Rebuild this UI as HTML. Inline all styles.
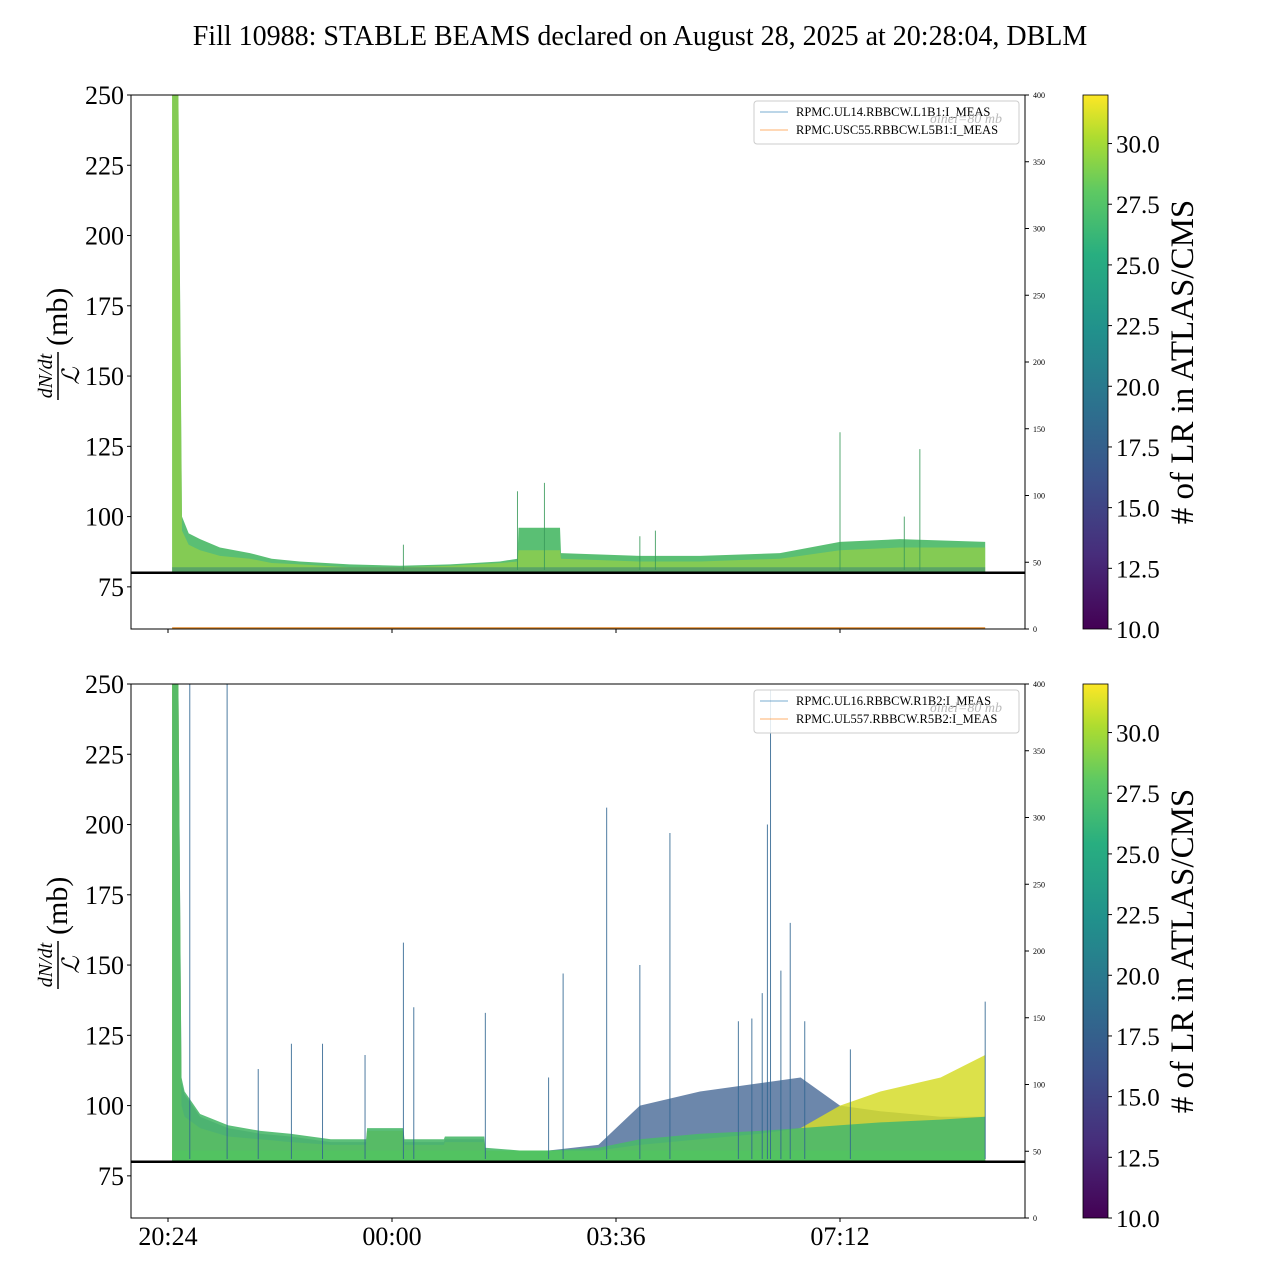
<!DOCTYPE html>
<html><head><meta charset="utf-8">
<style>
html,body{margin:0;padding:0;background:#fff;}
svg{display:block;font-family:"Liberation Serif",serif;}
</style></head>
<body>
<svg id="chart" width="1280" height="1280" viewBox="0 0 1280 1280" xmlns="http://www.w3.org/2000/svg">
<defs>
<linearGradient id="viridis" x1="0" y1="1" x2="0" y2="0">
<stop offset="0" stop-color="#440154"/><stop offset="0.14" stop-color="#472d7b"/>
<stop offset="0.28" stop-color="#3b528b"/><stop offset="0.42" stop-color="#2c728e"/>
<stop offset="0.56" stop-color="#21918c"/><stop offset="0.7" stop-color="#28ae80"/>
<stop offset="0.82" stop-color="#5ec962"/><stop offset="0.92" stop-color="#addc30"/>
<stop offset="1" stop-color="#fde725"/>
</linearGradient>
</defs>
<text x="640" y="45" text-anchor="middle" font-size="28">Fill 10988: STABLE BEAMS declared on August 28, 2025 at 20:28:04, DBLM</text>
<g id="panels"></g>
</svg>
<script>
// x axis: minutes since 20:24
const xTickLabels = ["20:24","00:00","03:36","07:12"];
const xTickMinutes = [0,216,432,648];
const yTicks = [75,100,125,150,175,200,225,250];
const rightTicks = [0,50,100,150,200,250,300,350,400];
const cbTicks = [10,12.5,15,17.5,20,22.5,25,27.5,30];

// Panel 1 envelope (minutes, value)
const p1Times = [4,10,13.5,20,31,50,79,100,127,175,224,272,320,337,338,378,379,455,513,590,648,706,788];
const p1Top   = [250,250,100,94,92,89,87,85,84,83,82.5,83,84,85,96,96,87,86,86,87,91,92,91];
const p1Yellow= [250,250,95,90,88,86,85,83.5,83,82,82,82.5,83.5,84,88,88,85,84,84,85,88,89,89];
const p1SpikeT = [227,337,363,455,470,648,725,710];
const p1SpikeV = [90,109,112,93,95,130,124,100];

// Panel 2 envelopes
const p2Times = [4,10,13,16,31,58,89,118,157,191,192,227,228,266,267,305,306,339,367,415,455,513,571,610,648,687,745,788];
const p2Green = [250,250,110,105,97,93,91,90,88,88,92,92,88,88,89,89,85,84,84,85,88,90,91,92,93,94,95,96];
const p2Blue  = [250,250,108,104,96,92,90,89,87,87,91,91,87,87,88,88,84,84,84,86,100,105,108,110,100,98,96,96];
const p2Yellow= [250,250,100,96,92,89,88,87,86,86,91,91,86,86,87,87,84,83,83,84,86,88,90,92,100,105,110,118];
const p2SpikeT = [21,57,87,119,149,190,227,237,306,367,381,423,455,484,550,563,573,578,581,591,600,614,658,788];
const p2SpikeV = [250,250,113,122,122,118,158,135,133,110,147,206,150,197,130,131,140,200,248,148,165,130,120,137];

const NS = "http://www.w3.org/2000/svg";
const root = document.getElementById('panels');
function mk(tag, attrs, parent){const e=document.createElementNS(NS,tag);for(const k in attrs)e.setAttribute(k,attrs[k]);(parent||root).appendChild(e);return e;}

const X0=131,X1=1025;
function xs(m){return 168 + m*224/216;}

function drawPanel(top, idx){
  const bot = top+534;
  const ys = v => bot - (Math.max(60,Math.min(250,v))-60)*(534/190);
  const g = mk('g',{});
  
  
  const clipId='clip'+idx;
  const cp=mk('clipPath',{id:clipId},g);mk('rect',{x:X0,y:top,width:X1-X0,height:534},cp);
  const data = mk('g',{'clip-path':'url(#'+clipId+')'},g);
  
  
  function band(times, vals, base, fill, op){
    let d='M'+xs(times[0])+','+ys(base);
    for(let i=0;i<times.length;i++) d+=' L'+xs(times[i]).toFixed(1)+','+ys(vals[i]).toFixed(1);
    d+=' L'+xs(times[times.length-1])+','+ys(base)+' Z';
    const p=mk('path',{d:d,fill:fill,'fill-opacity':op},data);
    
    
  }
  function spikes(T,V,col){
    for(let i=0;i<T.length;i++){
      const l=mk('line',{x1:xs(T[i]),x2:xs(T[i]),y1:ys(81),y2:ys(V[i]),stroke:col,'stroke-width':1,'stroke-opacity':0.85},data);
      
      
    }
  }
  if(idx===1){
    band(p1Times,p1Top,80.3,'#48b865',0.9);
    band(p1Times,p1Yellow,80.3,'#a8d53a',0.55);
    band(p1Times,p1Yellow.map(v=>Math.min(v,82)),80.3,'#2f7f78',0.5);
    spikes(p1SpikeT,p1SpikeV,'#3a9a5a');
    const o=mk('line',{x1:xs(4),x2:xs(788),y1:bot-1,y2:bot-1,stroke:'#e08a2c','stroke-width':1.5},g);
    
    
  } else {
    band(p2Times,p2Blue,80.3,'#3b5f8f',0.75);
    band(p2Times,p2Yellow,80.3,'#d6dc2a',0.85);
    band(p2Times,p2Green,80.3,'#4ab86a',0.9);
    band(p2Times,p2Green.map(v=>Math.min(v,84)),80.3,'#52c460',0.9);
    spikes(p2SpikeT,p2SpikeV,'#2f6590');
  }
  const s=mk('line',{x1:X0,x2:X1,y1:ys(80),y2:ys(80),stroke:'#000','stroke-width':2.5},g);
  
  
  mk('rect',{x:X0,y:top,width:X1-X0,height:534,fill:'none',stroke:'#000','stroke-width':1},g);
  yTicks.forEach(v=>{
    mk('line',{x1:X0-4,x2:X0,y1:ys(v),y2:ys(v),stroke:'#000'},g);
    const t=mk('text',{x:X0-7,y:ys(v)+9,'text-anchor':'end','font-size':26},g);t.textContent=v;
    
    
  });
  rightTicks.forEach(v=>{
    const y=bot - v*534/400;
    mk('line',{x1:X1,x2:X1+4,y1:y,y2:y,stroke:'#000'},g);
    const t=mk('text',{x:X1+8,y:y+3,'font-size':8},g);t.textContent=v;
    
    
  });
  xTickMinutes.forEach((m,i)=>{
    mk('line',{x1:xs(m),x2:xs(m),y1:bot,y2:bot+4,stroke:'#000'},g);
    if(idx===2){const t=mk('text',{x:xs(m),y:bot+27,'text-anchor':'middle','font-size':26},g);t.textContent=xTickLabels[i];
      
      }
  });
  const yl=mk('g',{transform:'translate(58,'+(top+267)+') rotate(-90)'},g);
  
  
  let t=mk('text',{x:-14,y:-6,'text-anchor':'middle','font-size':20,'font-style':'italic'},yl);t.textContent='dN/dt';
  mk('line',{x1:-38,x2:10,y1:0,y2:0,stroke:'#000','stroke-width':1.5},yl);
  t=mk('text',{x:-14,y:21,'text-anchor':'middle','font-size':24,'font-style':'italic'},yl);t.textContent='ℒ';
  t=mk('text',{x:16,y:9,'font-size':30},yl);t.textContent='(mb)';
  const lg=mk('g',{},g);
  
  
  mk('rect',{x:754,y:top+6,width:265,height:43,rx:3,fill:'#fff','fill-opacity':0.85,stroke:'#ccc'},lg);
  const names = idx===1?['RPMC.UL14.RBBCW.L1B1:I_MEAS','RPMC.USC55.RBBCW.L5B1:I_MEAS']:['RPMC.UL16.RBBCW.R1B2:I_MEAS','RPMC.UL557.RBBCW.R5B2:I_MEAS'];
  const cols=['#1f77b4','#ff7f0e'];
  names.forEach((n,i)=>{
    const y=top+17+i*18;
    mk('line',{x1:760,x2:788,y1:y,y2:y,stroke:cols[i],'stroke-width':1,'stroke-opacity':0.6},lg);
    const tt=mk('text',{x:796,y:y+4,'font-size':12.5},lg);tt.textContent=n;
    
    
  });
  t=mk('text',{x:930,y:top+28,'font-size':14,fill:'#bbb','font-style':'italic'},lg);t.textContent='σinel=80 mb';
  const cb=mk('g',{},g);
  
  
  mk('rect',{x:1083,y:top,width:25,height:534,fill:'url(#viridis)',stroke:'#000','stroke-width':0.8},cb);
  cbTicks.forEach(v=>{
    const y=bot-(v-10)*534/22;
    mk('line',{x1:1108,x2:1112,y1:y,y2:y,stroke:'#000'},cb);
    const tt=mk('text',{x:1116,y:y+9,'font-size':25},cb);tt.textContent=v.toFixed(1);
    
    
  });
  t=mk('text',{x:0,y:0,'font-size':33,'text-anchor':'middle',transform:'translate(1193,'+(top+267)+') rotate(-90)'},cb);
  t.textContent='# of LR in ATLAS/CMS';
  
  
}
drawPanel(95,1);
drawPanel(684,2);
</script>
</body></html>
